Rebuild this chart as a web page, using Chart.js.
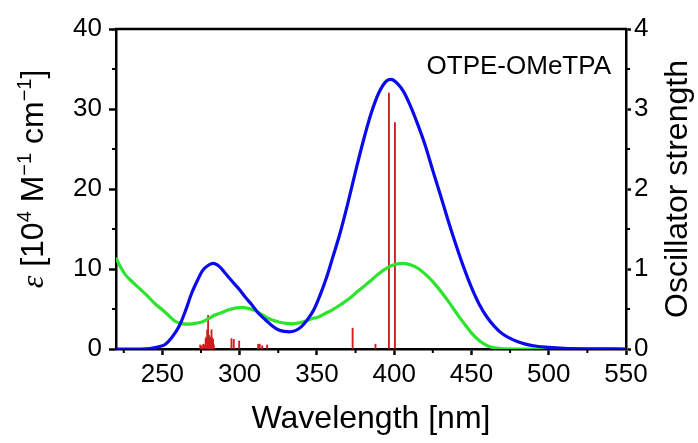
<!DOCTYPE html>
<html>
<head>
<meta charset="utf-8">
<script src="https://cdn.jsdelivr.net/npm/chart.js@4.4.0/dist/chart.umd.min.js"></script>
<style>
  html, body { margin: 0; padding: 0; background: #fff; }
</style>
</head>
<body>
<canvas id="spectrum" width="698" height="443"></canvas>
<script>
// blue: simulated absorption (epsilon, 10^4 M^-1 cm^-1)
const calcNm  = [220, 236, 242, 247, 252, 256, 261, 265, 269, 273, 276, 280, 283, 287, 291, 295, 300, 304, 308, 312, 317, 321, 325, 329, 332, 336, 340, 344, 348, 352, 356, 360, 365, 370, 375, 380, 385, 390, 395, 398, 402, 406, 410, 415, 420, 425, 430, 435, 440, 445, 450, 455, 460, 465, 470, 480, 490, 500, 510, 525, 550];
const calcEps = [0, 0, 0.06, 0.25, 0.6, 1.4, 2.9, 4.8, 7.0, 8.7, 9.8, 10.5, 10.7, 10.3, 9.4, 8.5, 7.4, 6.4, 5.5, 4.5, 3.6, 2.9, 2.4, 2.2, 2.15, 2.3, 2.8, 3.7, 4.9, 6.7, 8.8, 11.3, 14.5, 18.2, 22.2, 26.0, 29.4, 32.0, 33.5, 33.7, 33.2, 32.2, 30.6, 28.2, 25.5, 22.3, 19.2, 16.0, 13.0, 10.2, 7.7, 5.6, 4.0, 2.8, 1.9, 0.9, 0.4, 0.2, 0.08, 0.02, 0];

// green: measured absorption
const exptNm  = [220, 222.5, 226, 230, 235, 240, 245, 250, 254, 258, 262, 267, 271, 276, 280, 284, 289, 293, 298, 302, 306, 310, 314, 318, 322, 326, 330, 334, 338, 343, 347, 351, 356, 360, 365, 371, 377, 384, 390, 396, 401, 406, 411, 416, 421, 426, 431, 436, 441, 446, 451, 456, 461, 466, 472, 480, 550];
const exptEps = [11.4, 10.4, 9.3, 8.5, 7.6, 6.7, 5.7, 4.9, 4.2, 3.5, 3.2, 3.1, 3.2, 3.4, 3.8, 4.25, 4.6, 4.9, 5.15, 5.2, 5.05, 4.8, 4.35, 3.9, 3.55, 3.35, 3.2, 3.15, 3.25, 3.5, 3.8, 4.0, 4.5, 4.9, 5.5, 6.3, 7.3, 8.4, 9.4, 10.2, 10.6, 10.7, 10.5, 10.0, 9.2, 8.2, 7.0, 5.7, 4.3, 3.0, 1.8, 0.9, 0.35, 0.1, 0.02, 0, 0];

// red sticks: transitions and oscillator strengths
const stickNm = [274.5, 275.5, 276.5, 277.5, 278.0, 278.5, 279.0, 279.6, 280.2, 280.7, 281.2, 281.8, 282.3, 282.8, 283.3, 294.7, 296.2, 299.7, 312.0, 313.0, 314.6, 317.8, 373.1, 387.9, 396.6, 400.5];
const stickF  = [0.05, 0.04, 0.06, 0.05, 0.13, 0.15, 0.24, 0.42, 0.17, 0.15, 0.13, 0.24, 0.14, 0.12, 0.05, 0.13, 0.12, 0.10, 0.06, 0.06, 0.04, 0.05, 0.26, 0.06, 3.20, 2.83];

const xMajor = [250, 300, 350, 400, 450, 500, 550];
const xMinor = [225, 275, 325, 375, 425, 475, 525];
const yMajor = [0, 10, 20, 30, 40];
const yMinor = [5, 15, 25, 35];
const fMajor = [0, 1, 2, 3, 4];
const fMinor = [0.5, 1.5, 2.5, 3.5];

const SANS = '"Liberation Sans", Arial, sans-serif';
const pairs = (xs, ys) => xs.map((x, i) => ({x: x, y: ys[i]}));

// frame top, minor ticks, rotated titles and the compound label
const decor = {
  id: 'decor',
  afterDraw(chart) {
    const {ctx, chartArea: a, scales} = chart;
    ctx.save();
    ctx.strokeStyle = '#000';
    ctx.lineWidth = 2.5;
    ctx.beginPath();
    ctx.moveTo(a.left - 1.25, a.top);
    ctx.lineTo(a.right + 1.25, a.top);
    ctx.stroke();

    ctx.lineWidth = 2;
    ctx.beginPath();
    xMinor.forEach(v => {
      const px = scales.x.getPixelForValue(v);
      ctx.moveTo(px, a.bottom); ctx.lineTo(px, a.bottom + 4);
    });
    yMinor.forEach(v => {
      const py = scales.y.getPixelForValue(v);
      ctx.moveTo(a.left, py); ctx.lineTo(a.left - 4, py);
    });
    fMinor.forEach(v => {
      const py = scales.y1.getPixelForValue(v);
      ctx.moveTo(a.right, py); ctx.lineTo(a.right + 4, py);
    });
    ctx.stroke();

    ctx.fillStyle = '#000';
    ctx.textBaseline = 'alphabetic';

    // ε [10^4 M^-1 cm^-1], read bottom to top
    const big = 32, small = 20, rise = 12;
    const parts = [
      {t: 'ε', f: 'italic ' + big + 'px "Liberation Serif", serif', r: 0},
      {t: ' [10', f: big + 'px ' + SANS, r: 0},
      {t: '4', f: small + 'px ' + SANS, r: rise},
      {t: ' M', f: big + 'px ' + SANS, r: 0},
      {t: '−1', f: small + 'px ' + SANS, r: rise},
      {t: ' cm', f: big + 'px ' + SANS, r: 0},
      {t: '−1', f: small + 'px ' + SANS, r: rise},
      {t: ']', f: big + 'px ' + SANS, r: 0}
    ];
    let total = 0;
    parts.forEach(p => { ctx.font = p.f; p.w = ctx.measureText(p.t).width; total += p.w; });
    ctx.save();
    ctx.translate(43, (a.top + a.bottom) / 2 - 10);
    ctx.rotate(-Math.PI / 2);
    ctx.textAlign = 'left';
    let x = -total / 2;
    parts.forEach(p => { ctx.font = p.f; ctx.fillText(p.t, x, -p.r); x += p.w; });
    ctx.restore();

    ctx.save();
    ctx.translate(687, (a.top + a.bottom) / 2);
    ctx.rotate(-Math.PI / 2);
    ctx.textAlign = 'center';
    ctx.font = big + 'px ' + SANS;
    ctx.fillText('Oscillator strength', 0, 0);
    ctx.restore();

    ctx.textAlign = 'right';
    ctx.font = '26px ' + SANS;
    ctx.fillText('OTPE-OMeTPA', 611, 74);
    ctx.restore();
  }
};

const tickFont = {size: 26, family: SANS};
const fixTicks = list => scale => { scale.ticks = list.map(v => ({value: v})); };

const config = {
  type: 'line',
  data: {
    datasets: [
      {
        label: 'calc',
        data: pairs(calcNm, calcEps),
        borderColor: 'rgb(10,10,235)',
        borderWidth: 3.2,
        pointRadius: 0,
        cubicInterpolationMode: 'monotone',
        yAxisID: 'y',
        order: 1
      },
      {
        label: 'expt',
        data: pairs(exptNm, exptEps),
        borderColor: 'rgb(45,228,45)',
        borderWidth: 3.2,
        pointRadius: 0,
        cubicInterpolationMode: 'monotone',
        yAxisID: 'y',
        order: 2
      },
      {
        type: 'bar',
        label: 'f',
        data: pairs(stickNm, stickF),
        backgroundColor: 'rgb(205,30,30)',
        barThickness: 1.2,
        yAxisID: 'y1',
        order: 3
      }
    ]
  },
  options: {
    responsive: false,
    animation: false,
    devicePixelRatio: 1,
    layout: {padding: {top: 29, left: 0, right: 0, bottom: 0}},
    plugins: {legend: {display: false}, tooltip: {enabled: false}},
    scales: {
      x: {
        type: 'linear',
        min: 220, max: 550,
        offset: false,
        afterBuildTicks: fixTicks(xMajor),
        afterFit: s => { s.height = 94; },
        ticks: {font: tickFont, color: '#000', padding: 4, autoSkip: false, maxRotation: 0},
        grid: {offset: false, drawOnChartArea: false, tickLength: 6, tickWidth: 2.5, tickColor: '#000'},
        border: {width: 2.5, color: '#000'},
        title: {display: true, text: 'Wavelength [nm]', color: '#000',
                font: {size: 32, family: SANS, lineHeight: 1}, padding: {top: 0, bottom: 8}}
      },
      y: {
        position: 'left',
        min: 0, max: 40,
        afterBuildTicks: fixTicks(yMajor),
        afterFit: s => { s.width = 116; },
        ticks: {font: tickFont, color: '#000', padding: 7},
        grid: {drawOnChartArea: false, tickLength: 7, tickWidth: 2.5, tickColor: '#000'},
        border: {width: 2.5, color: '#000'}
      },
      y1: {
        position: 'right',
        min: 0, max: 4,
        afterBuildTicks: fixTicks(fMajor),
        afterFit: s => { s.width = 72; },
        ticks: {font: tickFont, color: '#000', padding: 3},
        grid: {drawOnChartArea: false, tickLength: 5, tickWidth: 2.5, tickColor: '#000'},
        border: {width: 2.5, color: '#000'}
      }
    }
  },
  plugins: [decor]
};

let ctx1 = document.getElementById('spectrum').getContext('2d');
window.spectrum = new Chart(ctx1, config);
</script>
</body>
</html>
